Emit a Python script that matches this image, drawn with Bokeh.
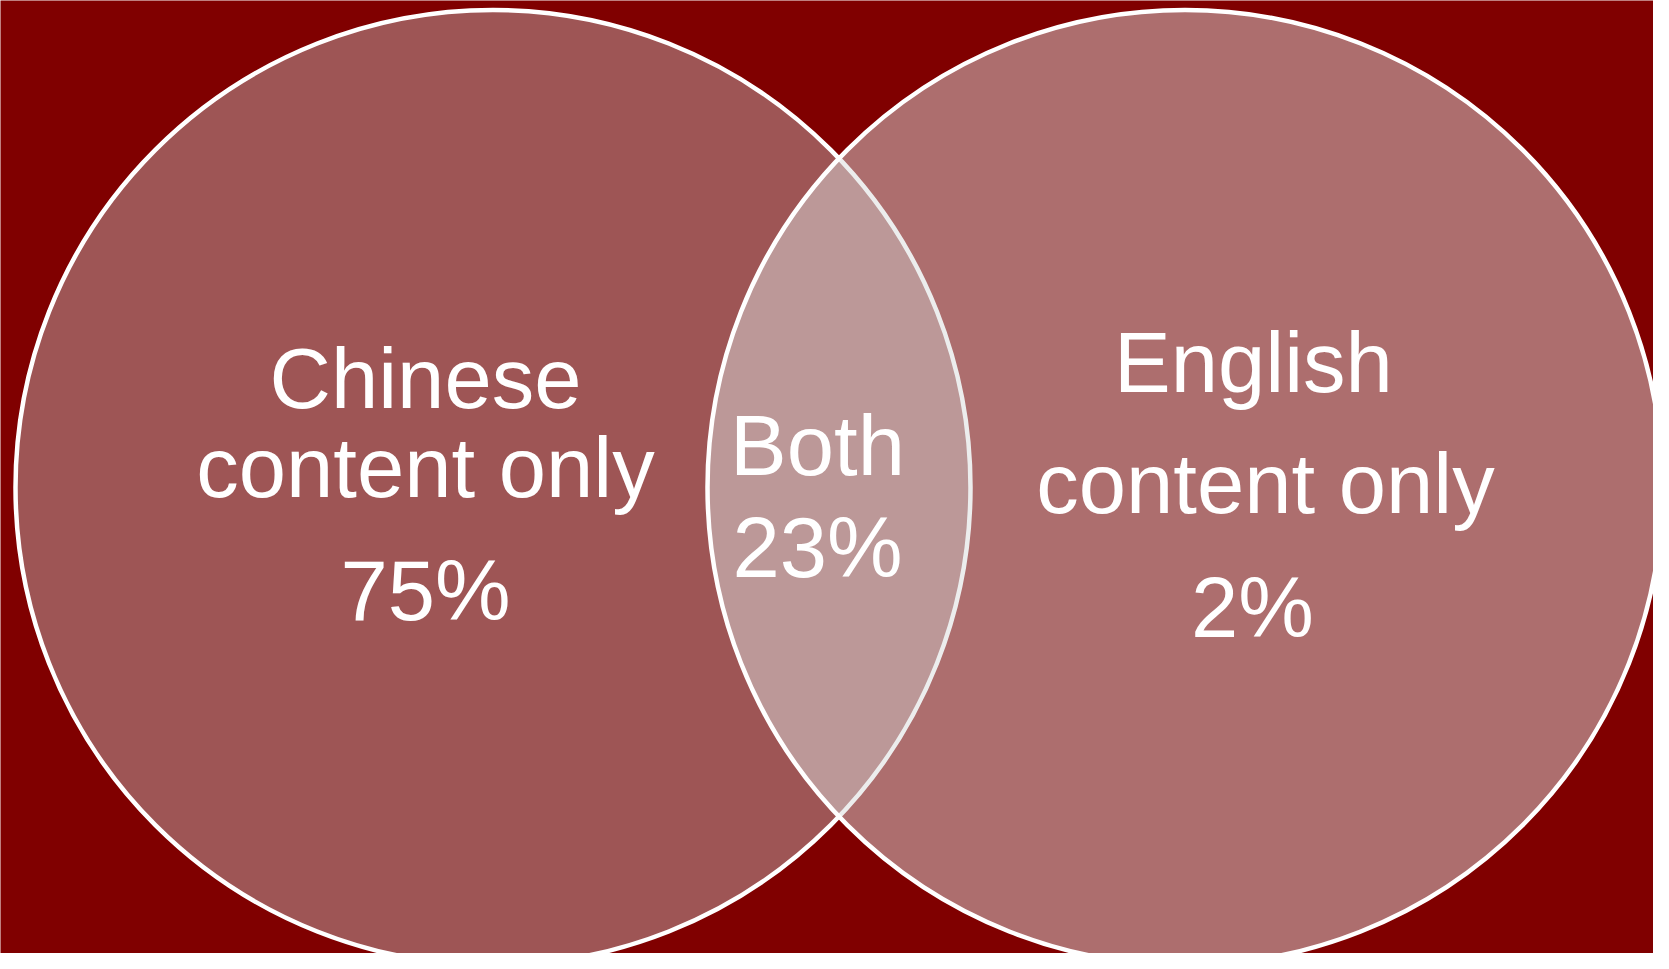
from bokeh.plotting import figure
from bokeh.models import Range1d, ColumnDataSource
from bokeh.core.properties import value
from bokeh.embed import file_html
from bokeh.resources import INLINE

# ---- data ----
groups = ["Chinese content only", "Both", "English content only"]
shares = [75, 23, 2]
label_lines = [["Chinese", "content only"], ["Both"], ["English", "content only"]]

# ---- layout (pixel space of the reference) ----
W, H = 1653, 953
circle_x = [492.5, 1184.5]
circle_y = [487, 487]
circle_r = 477.5
label_line_x = [[425, 425], [817], [1253, 1265]]
label_line_y = [[408, 497], [475], [392, 513]]
share_y = [620, 577, 637]
share_x = [425, 817, 1252]
font_px = "85px"
baseline_fix = -30  # renderer draws alphabetic baseline lower than requested

p = figure(width=W, height=H, output_backend="svg", toolbar_location=None,
           x_range=Range1d(0, W), y_range=Range1d(H, 0),
           min_border=0, outline_line_color=None)
p.axis.visible = False
p.grid.visible = False
p.background_fill_color = "#800000"
p.border_fill_color = "#800000"

# left circle (opaque) with white rim
p.circle(x=[circle_x[0]], y=[circle_y[0]], radius=circle_r,
         fill_color="#9E5555", fill_alpha=1.0,
         line_color="white", line_width=4.5)
# right circle (translucent) over it -> lighter intersection
p.circle(x=[circle_x[1]], y=[circle_y[1]], radius=circle_r,
         fill_color="#DADCDC", fill_alpha=0.5,
         line_color=None)
p.circle(x=[circle_x[1]], y=[circle_y[1]], radius=circle_r,
         fill_color=None, line_color="white", line_width=4.5)

# labels
tx, ty, tt = [], [], []
for i, lines in enumerate(label_lines):
    for j, line in enumerate(lines):
        tx.append(label_line_x[i][j]); ty.append(label_line_y[i][j] + baseline_fix); tt.append(line)
for i, s in enumerate(shares):
    tx.append(share_x[i]); ty.append(share_y[i] + baseline_fix); tt.append(f"{s}%")

src = ColumnDataSource(dict(x=tx, y=ty, t=tt))
p.text(x="x", y="y", text="t", source=src, text_color="white",
       text_font=value("Liberation Sans"), text_font_size=font_px,
       text_align="center", text_baseline="alphabetic")

open("out.html", "w").write(file_html(p, INLINE))
